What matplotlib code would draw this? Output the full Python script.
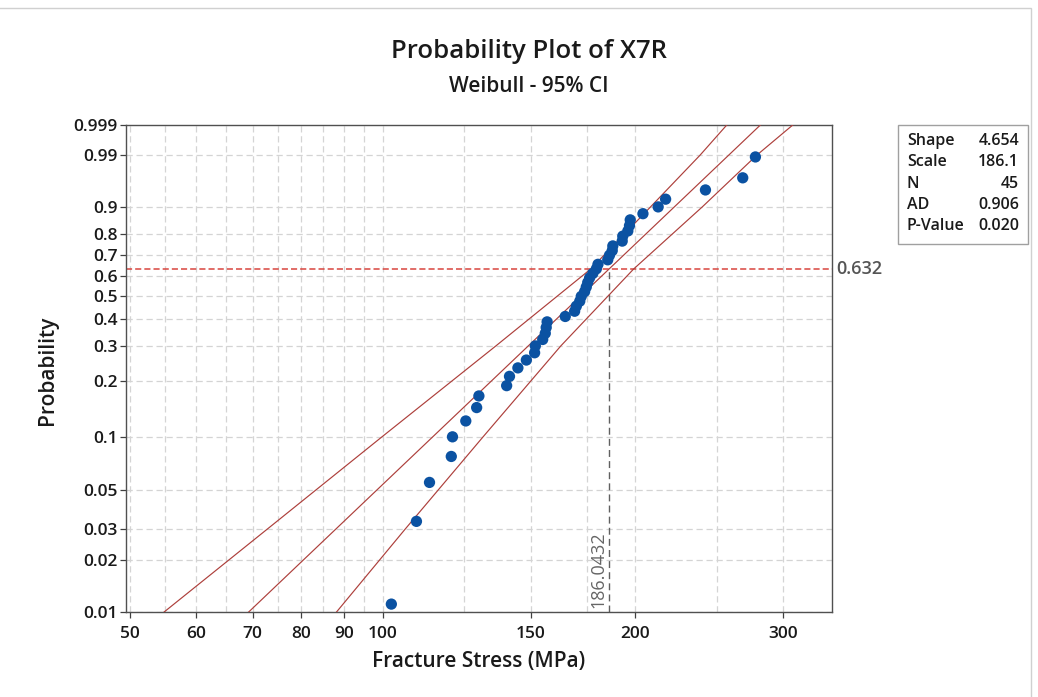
import numpy as np
import matplotlib
matplotlib.use("Agg")
import matplotlib.pyplot as plt
from matplotlib.ticker import FixedLocator, FixedFormatter, NullFormatter
from matplotlib.patches import Rectangle

plt.rcParams['font.family'] = ['Open Sans', 'DejaVu Sans']

# ---- data ----
stress = [102.4, 109.7, 113.7, 120.7, 121.1, 125.6, 129.4, 130.2, 140.5, 141.6,
          144.9, 148.3, 151.7, 152.0, 155.1, 156.2, 156.6, 157.0, 165.0, 169.3,
          170.1, 171.7, 172.4, 174.0, 174.8, 175.5, 176.4, 178.0, 179.7, 180.5,
          185.4, 186.3, 187.7, 188.0, 192.9, 193.2, 195.9, 196.8, 197.2, 204.2,
          212.9, 217.3, 242.4, 268.5, 278.0]

shape = 4.654
scale = 186.1
char_life = 186.0432
n_obs = 45
ad_stat = 0.906
p_value = 0.020

# 95% CI band at given probabilities
ci_prob = [0.01, 0.03, 0.1, 0.3, 0.632, 0.9, 0.99, 0.999]
ci_lower = [54.9, 72.8, 99.8, 136.4, 176.9, 208.5, 238.8, 257.0]
ci_upper = [88.1, 106.3, 131.7, 163.0, 199.0, 240.3, 279.0, 308.0]

x_major = [50, 60, 70, 80, 90, 100, 150, 200, 300]
x_minor = [55, 65, 75, 85, 95, 125, 175, 250]
y_ticks = [0.01, 0.02, 0.03, 0.05, 0.1, 0.2, 0.3, 0.4, 0.5, 0.6, 0.7, 0.8, 0.9, 0.99, 0.999]
y_labels = ['0.01', '0.02', '0.03', '0.05', '0.1', '0.2', '0.3', '0.4', '0.5', '0.6',
            '0.7', '0.8', '0.9', '0.99', '0.999']

# ---- figure ----
W, H = 1038, 697
fig = plt.figure(figsize=(W / 100, H / 100), dpi=100)
ax = fig.add_axes([126 / W, 1 - 612 / H, (832 - 126) / W, (612 - 125) / H])


def fwd(p):
    p = np.clip(np.asarray(p, dtype=float), 1e-9, 1 - 1e-12)
    return np.log(-np.log(1 - p))


def inv(y):
    return 1 - np.exp(-np.exp(np.asarray(y, dtype=float)))


ax.set_xscale('log')
ax.set_yscale('function', functions=(fwd, inv))
ax.set_xlim(49.45, 343)
ax.set_ylim(0.01, 0.999)

grid_kw = dict(color='#d4d4d4', lw=0.9, ls=(0, (5, 3)), zorder=0)
for xv in x_major + x_minor:
    ax.axvline(xv, **grid_kw)
for yv in y_ticks[:-1]:
    ax.axhline(yv, **grid_kw)

ax.xaxis.set_major_locator(FixedLocator(x_major))
ax.xaxis.set_major_formatter(FixedFormatter([str(v) for v in x_major]))
ax.xaxis.set_minor_locator(FixedLocator([]))
ax.xaxis.set_minor_formatter(NullFormatter())
ax.yaxis.set_major_locator(FixedLocator(y_ticks))
ax.yaxis.set_major_formatter(FixedFormatter(y_labels))
ax.yaxis.set_minor_locator(FixedLocator([]))
ax.tick_params(axis='both', which='major', direction='out', length=4, width=0.9,
               color='#404040', labelsize=12.5, labelcolor='#1a1a1a')
ax.tick_params(axis='x', pad=6)
ax.tick_params(axis='y', pad=2)
for lbl in ax.get_xticklabels() + ax.get_yticklabels():
    lbl.set_fontweight('semibold')
for s in ax.spines.values():
    s.set_color('#505050')
    s.set_linewidth(1.0)

line_col = '#ad3f3b'
# fitted line
fit_p = np.array([ci_prob[0], ci_prob[-1]])
fit_x = char_life * (-np.log(1 - fit_p)) ** (1 / shape)
ax.plot(fit_x, fit_p, color=line_col, lw=0.85, zorder=3)
ax.plot(ci_lower, ci_prob, color=line_col, lw=0.85, zorder=3)
ax.plot(ci_upper, ci_prob, color=line_col, lw=0.85, zorder=3)

# reference lines at 63.2%
ax.axhline(0.632, color='#d9453f', lw=1.1, ls=(0, (4, 2)), zorder=2)
ax.plot([char_life, char_life], [0.01, 0.632], color='#606060', lw=1.0,
        ls=(0, (5, 3)), zorder=2)
ax.text(1.006, 0.632, '0.632', transform=ax.get_yaxis_transform(), ha='left',
        va='center', fontsize=13, color='#555555', fontweight='semibold')
ax.text(char_life / 1.004, 0.0105, '186.0432', rotation=90, ha='right', va='bottom',
        fontsize=13, color='#666666')

# data points (plotting positions)
srt = np.sort(np.array(stress))
ranks = np.arange(1, len(srt) + 1)
pp = (ranks - 0.5) / len(srt)
ax.scatter(srt, pp, s=66, color='#0b52a2', edgecolors='none', zorder=5)

# titles and labels
fig.text(529 / W, 1 - 52 / H, 'Probability Plot of X7R', ha='center', va='center',
         fontsize=18.5, fontweight='semibold', color='#1a1a1a')
fig.text(529 / W, 1 - 86 / H, 'Weibull - 95% CI', ha='center', va='center',
         fontsize=15, fontweight='semibold', color='#1a1a1a')
fig.text(479 / W, 1 - 661 / H, 'Fracture Stress (MPa)', ha='center', va='center',
         fontsize=15, fontweight='semibold', color='#1a1a1a')
fig.text(47 / W, 1 - 370 / H, 'Probability', ha='center', va='center', rotation=90,
         fontsize=15, fontweight='semibold', color='#1a1a1a')

# stats box
fig.patches.append(Rectangle((898 / W, 1 - 244 / H), 130 / W, 119 / H,
                             transform=fig.transFigure, fill=False,
                             edgecolor='#a0a0a0', lw=1.0))
rows = [('Shape', f'{shape:.3f}'), ('Scale', f'{scale:.1f}'), ('N', f'{n_obs}'),
        ('AD', f'{ad_stat:.3f}'), ('P-Value', f'{p_value:.3f}')]
for k, (lab, val) in enumerate(rows):
    yy = 1 - (141 + 21.3 * k) / H
    fig.text(907 / W, yy, lab, ha='left', va='center', fontsize=11.5,
             fontweight='semibold', color='#1a1a1a')
    fig.text(1019 / W, yy, val, ha='right', va='center', fontsize=11.5,
             fontweight='semibold', color='#1a1a1a')

# outer graph frame
fig.patches.append(Rectangle((-2 / W, -2 / H), 1033 / W, (689 + 2) / H,
                             transform=fig.transFigure, fill=False,
                             edgecolor='#d0d0d0', lw=1.0))

fig.savefig('out.png', dpi=100, facecolor='white')
